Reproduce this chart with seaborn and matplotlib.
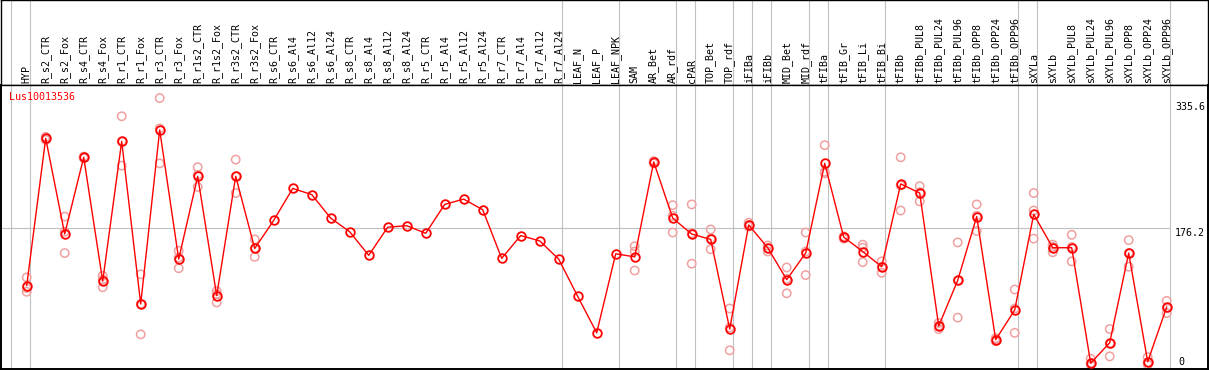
import numpy as np
import pandas as pd
import matplotlib
matplotlib.use("Agg")
import matplotlib.pyplot as plt
import seaborn as sns

# ---------------- data ----------------
title = "Lus10013536"
categories = [
    "HYP", "R_s2_CTR", "R_s2_Fox", "R_s4_CTR", "R_s4_Fox", "R_r1_CTR", "R_r1_Fox",
    "R_r3_CTR", "R_r3_Fox", "R_r1s2_CTR", "R_r1s2_Fox", "R_r3s2_CTR", "R_r3s2_Fox",
    "R_s6_CTR", "R_s6_Al4", "R_s6_Al12", "R_s6_Al24", "R_s8_CTR", "R_s8_Al4",
    "R_s8_Al12", "R_s8_Al24", "R_r5_CTR", "R_r5_Al4", "R_r5_Al12", "R_r5_Al24",
    "R_r7_CTR", "R_r7_Al4", "R_r7_Al12", "R_r7_Al24", "LEAF_N", "LEAF_P", "LEAF_NPK",
    "SAM", "AR_Bet", "AR_rdf", "cPAR", "TOP_Bet", "TOP_rdf", "iFIBa", "iFIBb",
    "MID_Bet", "MID_rdf", "tFIBa", "tFIB_Gr", "tFIB_Li", "tFIB_Bi", "tFIBb",
    "tFIBb_PUL8", "tFIBb_PUL24", "tFIBb_PUL96", "tFIBb_OPP8", "tFIBb_OPP24",
    "tFIBb_OPP96", "sXYLa", "sXYLb", "sXYLb_PUL8", "sXYLb_PUL24", "sXYLb_PUL96",
    "sXYLb_OPP8", "sXYLb_OPP24", "sXYLb_OPP96",
]
mean_values = [
    100, 294, 168, 269, 106, 290, 76, 305, 135, 244, 87, 244, 149,
    186, 228, 220, 189, 171, 140, 177, 179, 169, 207, 214, 200,
    136, 166, 159, 135, 86, 38, 142,
    138, 263, 189, 168, 161, 43, 180, 150, 108, 143,
    261, 164, 145, 125, 234, 222, 47, 107, 191, 29, 68,
    194, 150, 150, -2, 25, 143, 0, 72,
]
nan = float("nan")
rep1 = [
    111, 296, 191, 270, 113, 323, 115, 347, 146, 256, 93, 266, 161,
    nan, nan, nan, nan, nan, nan, nan, nan, nan, nan, nan, nan,
    nan, nan, nan, nan, nan, nan, nan,
    152, 264, 206, 207, 174, 70, 183, 153, 124, 170,
    285, 165, 154, 132, 269, 231, 51, 157, 207, 31, 95,
    222, 154, 167, 4, 43, 160, 6, 80,
]
rep2 = [
    97, 293, 171, 268, 108, 290, 76, 307, 137, 246, 89, 244, 149,
    nan, nan, nan, nan, nan, nan, nan, nan, nan, nan, nan, nan,
    nan, nan, nan, nan, nan, nan, nan,
    145, 262, 192, 169, 162, 45, 180, 149, 109, 145,
    250, 164, 150, 125, 232, 223, 47, 107, 192, 29, 70,
    199, 151, 151, -2, 24, 143, -1, 71,
]
rep3 = [
    92, 292, 143, 269, 98, 258, 36, 261, 123, 230, 78, 222, 138,
    nan, nan, nan, nan, nan, nan, nan, nan, nan, nan, nan, nan,
    nan, nan, nan, nan, nan, nan, nan,
    120, 261, 170, 129, 148, 15, 178, 145, 90, 114,
    248, 162, 131, 117, 199, 211, 43, 58, 172, 27, 38,
    162, 144, 132, -4, 7, 125, -4, 64,
]
# index of last category in each group (group separators)
group_ends = [-1, 0, 28, 31, 34, 35, 37, 38, 39, 41, 42, 45, 52, 53, 60]
ref_value = 176.2
axis_labels = ["335.6", "176.2", "0"]
axis_values = [335.6, 176.2, 0.0]

# ---------------- layout ----------------
W, H = 1209, 370
fig = plt.figure(figsize=(W / 100, H / 100), dpi=100)
sns.set_style("white")
plt.rcParams["font.family"] = ["DejaVu Sans Mono"]

x0_px, dx_px = 26.7, 19.0
def px2idx(px):
    return (px - x0_px) / dx_px

left_px, right_px = 1.0, 1207.5
head_h = 85
ax_head = fig.add_axes([left_px / W, (H - head_h) / H, (right_px - left_px) / W, head_h / H])
ax = fig.add_axes([left_px / W, 1.0 / H, (right_px - left_px) / W, (H - head_h - 1.0) / H])

xlim = (px2idx(left_px), px2idx(right_px))
# value v at pixel 361.7 - 0.7598*v
scale = 0.7598
y_top = (361.7 - head_h) / scale
y_bot = (361.7 - 369.0) / scale

n = len(categories)
idx = np.arange(n)
gray = "#c0c0c0"
red = "#ff0000"
pink = "#f0a0a0"

# header
ax_head.set_xlim(*xlim)
ax_head.set_ylim(0, 1)
ax_head.set_xticks([])
ax_head.set_yticks([])
for g in group_ends:
    ax_head.axvline(g + 0.19, color=gray, lw=0.8, zorder=0)
for i, lab in enumerate(categories):
    ax_head.text(i, 0.02, lab, rotation=90, ha="center", va="bottom",
                 fontsize=7.2, color="black")
for s in ax_head.spines.values():
    s.set_color("black")
    s.set_linewidth(1.0)

# main plot
ax.set_xlim(*xlim)
ax.set_ylim(y_bot, y_top)
ax.set_xticks([])
ax.set_yticks([])
for g in group_ends:
    ax.axvline(g + 0.19, color=gray, lw=0.8, zorder=0)
ax.hlines(ref_value, xlim[0], group_ends[-1] + 0.19, color=gray, lw=0.8, zorder=0)

rep_df = pd.DataFrame({
    "i": np.concatenate([idx, idx, idx]),
    "v": np.concatenate([rep1, rep2, rep3]),
}).dropna()
sns.scatterplot(data=rep_df, x="i", y="v", ax=ax, marker="o", s=36,
                facecolors="none", edgecolors=pink, linewidths=1.1, zorder=2,
                legend=False)

mean_df = pd.DataFrame({"i": idx, "v": mean_values})
sns.lineplot(data=mean_df, x="i", y="v", ax=ax, color=red, lw=1.0,
             marker="o", markersize=6.2, markerfacecolor="none",
             markeredgecolor=red, markeredgewidth=1.3, zorder=3, legend=False)
ax.set_xlabel("")
ax.set_ylabel("")

ax.text(px2idx(9), (361.7 - 97) / scale, title, color=red, fontsize=7.2,
        ha="left", va="center")

for lab, val in zip(axis_labels, axis_values):
    xpos = px2idx(1178.5) if lab == "0" else px2idx(1175)
    va = "top" if lab == "176.2" else "center"
    ax.text(xpos, val, lab, fontsize=7.2, ha="left", va=va, color="black")

for name, s in ax.spines.items():
    s.set_color("black")
    s.set_linewidth(1.4 if name in ("left", "bottom", "right") else 1.0)

fig.savefig("out.png", dpi=100)
